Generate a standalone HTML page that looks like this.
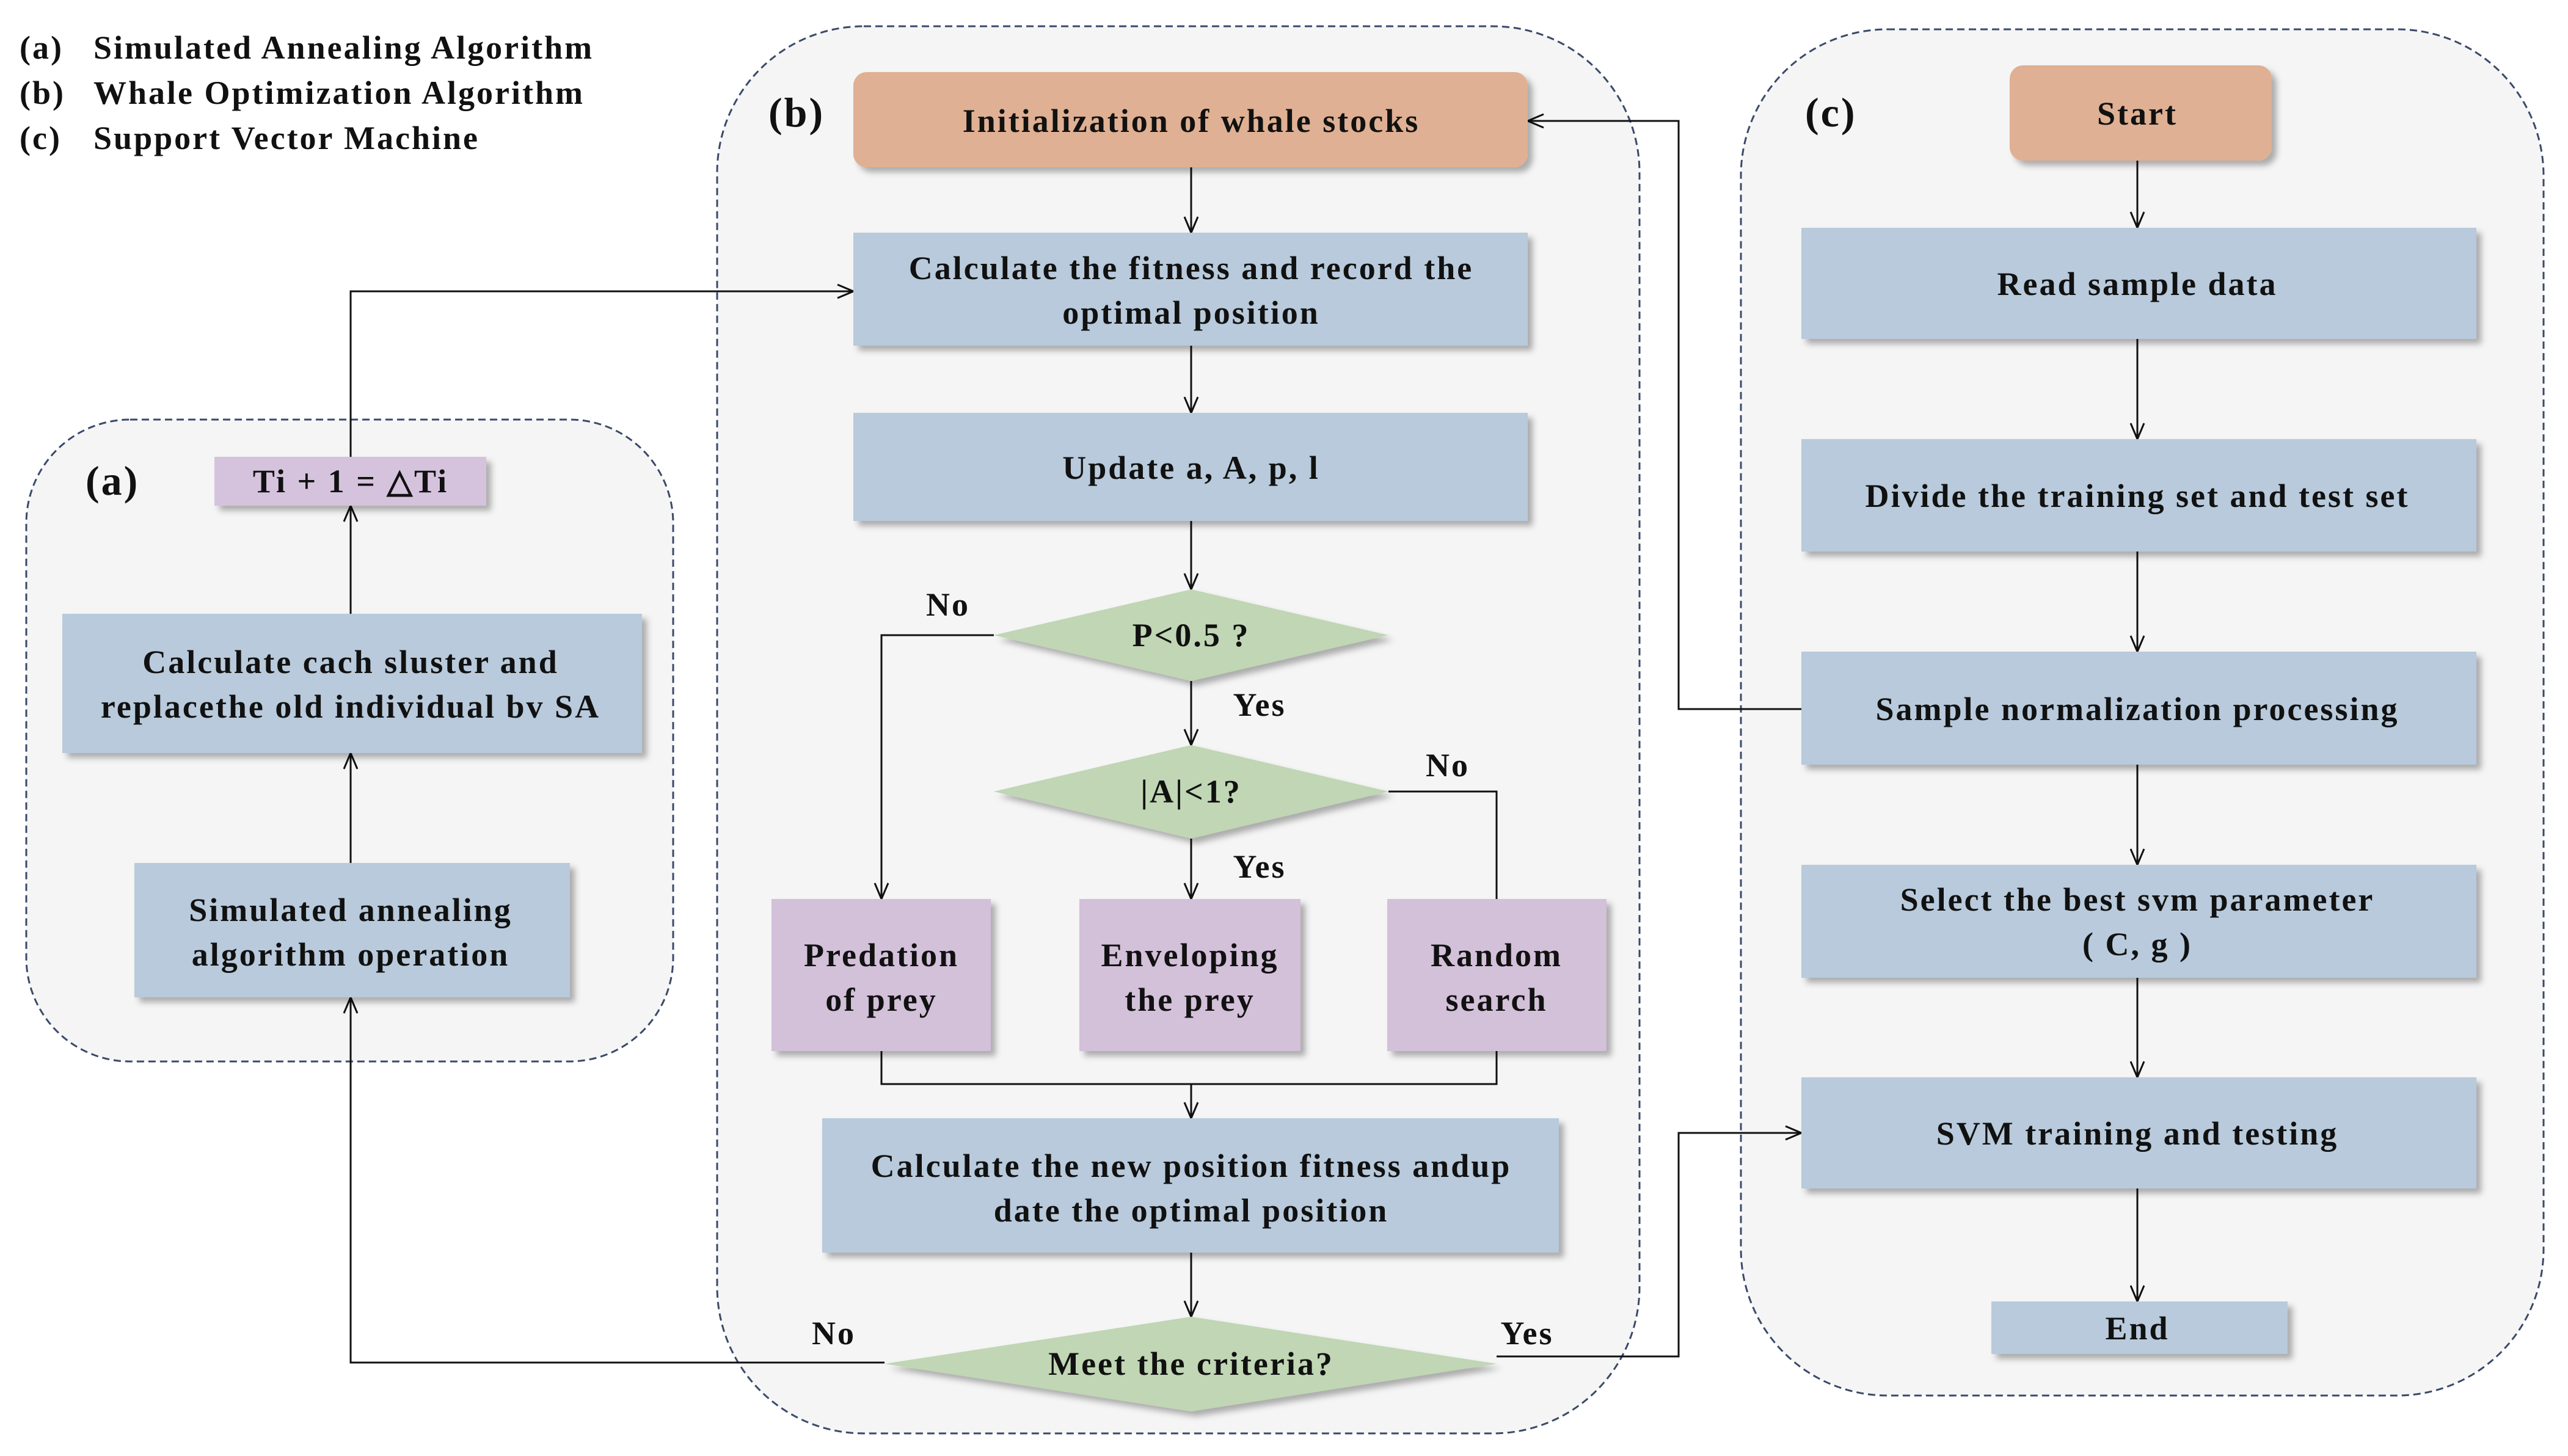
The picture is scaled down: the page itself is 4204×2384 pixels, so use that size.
<!DOCTYPE html>
<html><head><meta charset="utf-8"><style>
html,body{margin:0;padding:0;background:#fff;}
svg{display:block;}
text{font-family:"Liberation Serif",serif;font-weight:bold;fill:#111;letter-spacing:3px;}
</style></head><body>
<svg width="4204" height="2384" viewBox="0 0 4204 2384" xmlns="http://www.w3.org/2000/svg">
<defs>
<marker id="ar" markerWidth="30" markerHeight="30" refX="28" refY="15" orient="auto" markerUnits="userSpaceOnUse">
<path d="M2,4 L28,15 L2,26" fill="none" stroke="#111" stroke-width="3"/>
</marker>
<filter id="sh" x="-5%" y="-5%" width="115%" height="125%"><feDropShadow dx="8" dy="8" stdDeviation="5" flood-color="#000" flood-opacity="0.3"/></filter>
</defs>
<rect x="43" y="687" width="1059" height="1051" rx="170" fill="#f5f5f5" stroke="#3a4a6a" stroke-width="3" stroke-dasharray="12,7"/>
<rect x="1174" y="43" width="1510" height="2304" rx="240" fill="#f5f5f5" stroke="#3a4a6a" stroke-width="3" stroke-dasharray="12,7"/>
<rect x="2850" y="48" width="1314" height="2237" rx="240" fill="#f5f5f5" stroke="#3a4a6a" stroke-width="3" stroke-dasharray="12,7"/>
<g font-size="54">
<text x="32" y="96">(a)</text><text x="153" y="96">Simulated Annealing Algorithm</text>
<text x="32" y="170">(b)</text><text x="153" y="170">Whale Optimization Algorithm</text>
<text x="32" y="244">(c)</text><text x="153" y="244">Support Vector Machine</text>
</g>
<g font-size="68"><text x="140" y="810">(a)</text><text x="1258" y="207">(b)</text><text x="2955" y="207">(c)</text></g>
<g stroke="#111" stroke-width="3" fill="none">
<path d="M574,748 V477 H1397" marker-end="url(#ar)"/>
<path d="M574,1005 V828" marker-end="url(#ar)"/>
<path d="M574,1413 V1233" marker-end="url(#ar)"/>
<path d="M1448,2231 H574 V1633" marker-end="url(#ar)"/>
<path d="M2450,2221 H2748 V1855 H2949" marker-end="url(#ar)"/>
<path d="M2949,1161 H2748 V198 H2501" marker-end="url(#ar)"/>
<path d="M1950,274 V381" marker-end="url(#ar)"/>
<path d="M1950,566 V676" marker-end="url(#ar)"/>
<path d="M1950,853 V965" marker-end="url(#ar)"/>
<path d="M1627,1040 H1443 V1472" marker-end="url(#ar)"/>
<path d="M1950,1115 V1220" marker-end="url(#ar)"/>
<path d="M2273,1296 H2450 V1472"/>
<path d="M1950,1373 V1472" marker-end="url(#ar)"/>
<path d="M1443,1721 V1775 H2450 V1721"/>
<path d="M1950,1775 V1831" marker-end="url(#ar)"/>
<path d="M1950,2051 V2156" marker-end="url(#ar)"/>
<path d="M3499,263 V373" marker-end="url(#ar)"/>
<path d="M3499,555 V719" marker-end="url(#ar)"/>
<path d="M3499,903 V1067" marker-end="url(#ar)"/>
<path d="M3499,1252 V1416" marker-end="url(#ar)"/>
<path d="M3499,1601 V1764" marker-end="url(#ar)"/>
<path d="M3499,1946 V2131" marker-end="url(#ar)"/>
</g>
<g filter="url(#sh)">
<rect x="1397" y="118" width="1104" height="156" rx="22" fill="#dfb093"/>
<rect x="1397" y="381" width="1104" height="185" fill="#b8cadb"/>
<rect x="1397" y="676" width="1104" height="177" fill="#b8cadb"/>
<polygon points="1627,1040 1950,965 2273,1040 1950,1115" fill="#c0d6b4"/>
<polygon points="1627,1296 1950,1220 2273,1296 1950,1373" fill="#c0d6b4"/>
<rect x="1263" y="1472" width="359" height="249" fill="#d3c0d9"/>
<rect x="1767" y="1472" width="362" height="249" fill="#d3c0d9"/>
<rect x="2271" y="1472" width="359" height="249" fill="#d3c0d9"/>
<rect x="1346" y="1831" width="1206" height="220" fill="#b8cadb"/>
<polygon points="1448,2233 1950,2156 2450,2233 1950,2311" fill="#c0d6b4"/>
<rect x="351" y="748" width="445" height="80" fill="#d5c3dd"/>
<rect x="102" y="1005" width="949" height="228" fill="#b8cadb"/>
<rect x="220" y="1413" width="713" height="220" fill="#b8cadb"/>
<rect x="3290" y="107" width="429" height="156" rx="22" fill="#dfb093"/>
<rect x="2949" y="373" width="1105" height="182" fill="#b8cadb"/>
<rect x="2949" y="719" width="1105" height="184" fill="#b8cadb"/>
<rect x="2949" y="1067" width="1105" height="185" fill="#b8cadb"/>
<rect x="2949" y="1416" width="1105" height="185" fill="#b8cadb"/>
<rect x="2949" y="1764" width="1105" height="182" fill="#b8cadb"/>
<rect x="3260" y="2131" width="485" height="86" fill="#b8cadb"/>
</g>
<g font-size="54" text-anchor="middle">
<text x="1950" y="216">Initialization of whale stocks</text>
<text x="1950" y="457">Calculate the fitness and record the</text>
<text x="1950" y="530">optimal position</text>
<text x="1950" y="784">Update a, A, p, l</text>
<text x="1950" y="1058">P&lt;0.5 ?</text>
<text x="1950" y="1314">|A|&lt;1?</text>
<text x="1443" y="1582">Predation</text><text x="1443" y="1655">of prey</text>
<text x="1948" y="1582">Enveloping</text><text x="1948" y="1655">the prey</text>
<text x="2450" y="1582">Random</text><text x="2450" y="1655">search</text>
<text x="1950" y="1927">Calculate the new position fitness andup</text>
<text x="1950" y="2000">date the optimal position</text>
<text x="1950" y="2251">Meet the criteria?</text>
<text x="574" y="806">Ti + 1 = △Ti</text>
<text x="574" y="1102">Calculate cach sluster and</text>
<text x="574" y="1175">replacethe old individual bv SA</text>
<text x="574" y="1508">Simulated annealing</text>
<text x="574" y="1581">algorithm operation</text>
<text x="3499" y="204">Start</text>
<text x="3499" y="483">Read sample data</text>
<text x="3499" y="830">Divide the training set and test set</text>
<text x="3499" y="1179">Sample normalization processing</text>
<text x="3499" y="1491">Select the best svm parameter</text>
<text x="3499" y="1564">( C, g )</text>
<text x="3499" y="1874">SVM training and testing</text>
<text x="3499" y="2193">End</text>
<text x="1552" y="1008">No</text>
<text x="2062" y="1172">Yes</text>
<text x="2370" y="1271">No</text>
<text x="2062" y="1437">Yes</text>
<text x="1365" y="2201">No</text>
<text x="2500" y="2201">Yes</text>
</g>
</svg>
</body></html>
